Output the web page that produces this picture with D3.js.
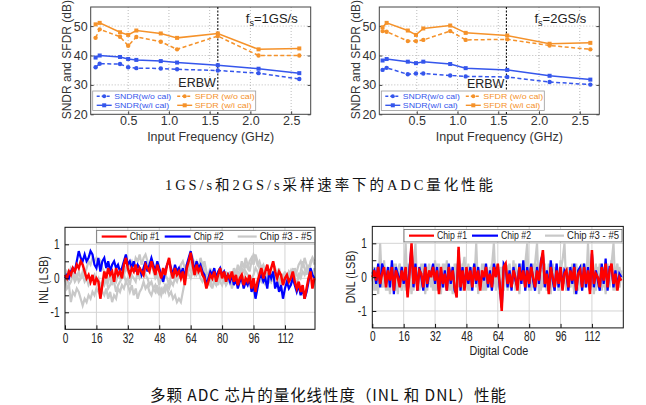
<!DOCTYPE html>
<html><head><meta charset="utf-8">
<script src="https://cdn.jsdelivr.net/npm/d3@7"></script>
<style>body{margin:0;background:#fff}svg{display:block}</style>
</head><body>
<svg id="c" width="646" height="405"></svg>
<script>
// ---------- data: ADC SNDR / SFDR vs input frequency ----------
const freq1 = [0.1,0.15,0.4,0.5,0.6,0.9,1.1,1.6,2.1,2.6];
const freq2 = [0.08,0.13,0.39,0.49,0.58,0.91,1.1,1.61,2.13,2.63];
const sndrWo1 = [36.0,37.2,37.1,36.0,35.7,35.6,35.3,34.9,34.0,32.0];
const sndrWi1 = [39.3,40.0,39.5,38.8,38.5,38.1,37.6,36.7,35.5,34.0];
const sfdrWo1 = [46.0,48.9,46.4,43.3,46.3,44.7,42.1,46.6,40.0,40.0];
const sfdrWi1 = [50.6,51.1,47.9,47.0,48.5,47.5,46.0,47.5,42.1,42.4];
const sndrWo2 = [35.1,35.8,33.6,33.9,33.9,33.2,32.9,32.7,31.0,30.1];
const sndrWi2 = [38.3,38.8,37.9,37.4,37.9,37.1,35.7,35.1,33.1,31.8];
const sfdrWo2 = [48.3,48.1,44.9,44.9,45.3,48.3,45.3,45.5,43.4,42.1];
const sfdrWi2 = [49.6,51.1,48.5,47.0,49.2,50.2,47.7,46.8,44.0,44.3];
const erbw = 1.6;
const freqTicks = [0.5,1.0,1.5,2.0,2.5];
const dbTicks = [20,30,40,50];
const seriesLabels = ["SNDR(w/o cal)","SFDR (w/o cal)","SNDR(w/i cal)","SFDR (w/i cal)"];

// ---------- data: INL / DNL vs digital code (codes 0..127) ----------
const codeTicks = [0,16,32,48,64,80,96,112];
const lsbTicks = [-1,-0.5,0,0.5,1];
const chipLabels = ["Chip #1","Chip #2","Chip #3 - #5"];
const inlChip1 = [0.1,0.0,0.2,0.1,0.3,0.2,0.4,0.3,0.5,0.4,
 0.2,0.0,0.1,-0.1,0.1,-0.2,0.0,-0.1,-0.6,-0.2,
 0.2,0.0,0.3,0.1,0.2,-0.1,0.3,0.1,0.2,0.0,
 0.4,0.6,0.3,0.1,0.3,0.2,0.4,0.1,0.3,0.2,
 0.1,0.4,0.3,0.2,0.5,0.3,0.1,0.4,0.2,0.0,
 0.3,0.1,0.4,0.6,0.2,0.0,0.3,0.1,0.2,0.0,
 0.2,-0.2,0.3,0.5,0.75,0.4,0.1,0.4,0.2,0.3,
 0.1,0.0,-0.3,-0.1,0.1,0.0,0.2,-0.1,0.1,0.3,
 0.0,0.2,-0.1,0.1,0.0,0.2,-0.1,0.1,-0.2,0.0,
 0.1,-0.2,0.0,-0.1,0.1,-0.3,0.0,-0.4,-0.1,0.1,
 0.3,0.0,0.2,0.4,0.1,0.3,0.5,0.2,0.0,0.2,
 0.1,-0.2,0.0,0.1,-0.1,0.0,0.2,-0.1,-0.3,-0.1,
 -0.4,-0.2,-0.6,-0.3,0.0,0.2,-0.3,0.0];
const inlChip2 = [0.0,0.1,0.0,0.2,0.3,0.2,0.5,0.8,0.6,0.5,
 0.7,0.5,0.6,0.8,0.7,0.4,0.3,0.6,0.2,0.5,
 0.6,0.3,0.5,0.2,0.4,0.5,0.3,0.4,0.2,0.3,
 0.5,0.7,0.4,0.5,0.3,0.5,0.2,0.4,0.3,0.1,
 0.3,0.5,0.2,0.4,0.6,0.4,0.2,0.5,0.3,0.1,
 -0.1,0.2,0.4,0.5,0.3,0.1,0.4,0.2,0.3,0.1,
 0.3,0.0,0.4,0.6,0.8,0.5,0.2,0.5,0.3,0.4,
 0.2,0.1,-0.2,0.0,0.2,0.1,0.3,0.0,0.2,0.3,
 0.1,0.2,0.0,0.1,-0.1,0.1,-0.2,0.0,-0.3,-0.1,
 0.0,-0.3,-0.1,-0.2,0.0,-0.4,-0.2,-0.6,-0.3,0.0,
 0.1,-0.1,0.0,-0.3,0.2,0.0,0.2,-0.3,-0.1,-0.4,
 -0.2,-0.6,-0.3,-0.1,-0.3,-0.2,0.0,-0.2,-0.4,-0.2,
 -0.5,-0.3,-0.6,-0.4,-0.1,0.3,0.1,0.0];
const inlChip3 = [0.0,-0.3,-0.2,-0.7,-0.4,-0.5,-0.3,-0.4,-0.6,-0.8,
 -0.6,-0.7,-0.5,-0.6,-0.4,-0.5,-0.3,-0.4,-0.2,-0.4,
 -0.5,-0.3,-0.6,-0.4,-0.7,-0.5,-0.6,-0.3,-0.4,-0.2,
 -0.3,-0.1,-0.2,-0.4,-0.2,-0.5,-0.3,-0.6,-0.4,-0.3,
 -0.1,-0.3,-0.2,-0.4,-0.5,-0.3,-0.4,-0.2,-0.5,-0.3,
 -0.4,-0.2,-0.3,-0.5,-0.4,-0.6,-0.5,-0.7,-0.6,-0.7,
 -0.4,-0.1,0.1,0.3,0.5,0.6,0.4,0.5,0.3,0.6,
 0.4,0.2,0.0,-0.1,-0.2,0.0,-0.1,-0.2,0.0,-0.1,
 -0.2,0.0,0.1,-0.1,0.2,0.0,0.3,0.1,0.4,0.2,
 0.5,0.3,0.6,0.4,0.2,0.5,0.7,0.6,0.4,0.5,
 0.3,0.4,0.2,0.0,0.1,-0.1,0.0,0.2,0.1,0.3,
 0.0,0.1,-0.1,0.0,0.2,0.1,0.3,0.0,0.2,0.4,
 0.5,0.3,0.6,0.4,0.2,0.5,0.6,0.4];
const inlChip4 = [0.0,0.2,0.1,0.3,0.2,0.0,0.1,-0.1,0.0,0.2,
 0.1,0.3,0.5,0.4,0.6,0.5,0.6,0.4,0.5,0.3,
 0.2,0.0,-0.1,0.1,-0.2,0.0,-0.1,0.1,0.0,0.2,
 0.1,0.3,0.2,0.4,0.5,0.3,0.6,0.5,0.7,0.4,
 0.6,0.7,0.5,0.3,0.4,0.2,0.0,0.1,-0.2,0.0,
 -0.1,0.1,0.0,-0.2,0.1,0.2,0.0,0.3,0.1,0.4,
 0.5,0.3,0.4,0.1,0.0,0.2,0.1,0.3,0.2,0.4,
 0.3,0.5,0.2,0.1,0.3,0.0,0.1,-0.2,0.0,-0.1,
 0.1,0.0,-0.2,-0.1,0.0,-0.3,-0.1,0.0,0.2,0.1,
 0.3,0.2,0.4,0.3,0.5,0.6,0.4,0.7,0.5,0.3,
 0.1,0.2,0.0,0.1,-0.1,0.0,0.2,0.3,0.1,0.0,
 -0.2,0.0,0.1,-0.1,0.0,0.2,0.0,0.3,0.1,0.0,
 0.2,0.5,0.3,0.1,0.4,0.2,0.1,0.3];
const inlChip5 = [-0.1,0.0,-0.2,-0.1,0.1,-0.1,0.0,0.2,0.0,0.1,
 -0.1,0.0,-0.2,-0.1,0.0,0.1,-0.1,0.0,-0.3,-0.1,
 -0.2,0.0,-0.3,-0.2,0.0,-0.1,-0.4,-0.2,-0.1,0.0,
 0.1,-0.1,0.0,-0.2,0.1,0.0,-0.1,0.2,0.0,0.1,
 0.3,0.1,0.0,-0.2,-0.1,-0.3,-0.2,-0.4,-0.3,-0.5,
 -0.3,-0.4,-0.2,-0.3,-0.1,-0.2,0.0,-0.1,0.1,0.0,
 0.2,0.0,0.1,0.3,0.2,0.4,0.3,0.1,0.2,0.0,
 -0.1,0.0,0.1,-0.2,0.0,-0.3,-0.1,0.0,-0.2,0.1,
 0.0,-0.1,0.2,0.0,0.1,-0.1,0.0,0.2,0.0,0.1,
 -0.1,0.0,0.2,0.1,-0.1,0.0,0.1,0.3,0.2,0.0,
 -0.1,0.0,-0.2,0.1,0.0,-0.1,0.2,0.0,0.1,-0.2,
 0.0,-0.1,0.2,0.0,-0.2,-0.1,0.1,0.0,-0.2,0.1,
 0.0,0.2,0.1,0.3,0.2,0.4,0.6,0.5];
const dnlChip1 = [0.0,0.2,-0.1,0.3,-0.2,0.1,0.3,-0.3,0.2,-0.1,
 0.3,-0.4,0.2,0.0,-0.3,0.2,-0.1,0.3,-0.6,0.1,
 1.0,-0.2,0.3,-0.4,0.2,0.1,-0.3,0.3,-0.2,0.2,
 0.0,0.3,-0.1,0.2,-0.5,0.3,-0.2,0.1,-0.4,0.3,
 -0.1,0.2,-0.3,-0.6,0.9,-0.3,0.2,-0.4,0.3,-0.1,
 0.2,-0.3,0.3,-0.1,0.2,-0.4,0.2,0.0,0.3,-0.2,
 0.1,-0.3,0.3,0.0,0.4,-0.2,-1.0,0.3,0.4,-0.2,
 0.1,-0.3,0.2,0.0,-0.4,0.3,-0.1,0.2,-0.3,0.2,
 -0.2,0.3,0.0,-0.3,0.2,-0.1,0.4,0.8,-0.2,0.1,
 -0.5,0.3,0.0,-0.3,0.2,-0.2,0.3,-0.4,0.1,0.2,
 -0.3,0.2,-0.1,0.3,-0.4,0.1,0.2,-0.3,0.3,-0.2,
 0.2,-0.5,0.8,-0.2,0.1,0.0,-0.3,0.3,-0.1,0.4,
 -0.3,0.2,0.4,-0.2,0.1,-0.4,0.0,-0.1];
const dnlChip2 = [0.1,0.2,-0.2,0.4,-0.3,0.4,0.2,-0.2,0.3,-0.3,
 0.5,-0.5,0.3,0.1,-0.2,0.3,-0.2,0.2,-0.5,0.3,
 0.9,-0.3,0.4,-0.4,0.3,0.0,-0.4,0.4,-0.3,0.1,
 0.1,0.4,-0.2,0.3,-0.4,0.2,-0.3,0.2,-0.4,0.4,
 -0.2,0.3,-0.4,-0.5,0.8,-0.4,0.3,-0.3,0.2,-0.2,
 0.3,-0.4,0.4,-0.2,0.3,-0.3,0.1,-0.1,0.4,-0.3,
 0.2,-0.4,0.4,0.1,0.3,-0.3,-0.9,0.4,0.3,-0.3,
 0.2,-0.4,0.3,-0.1,-0.3,0.4,-0.2,0.5,-0.4,0.3,
 -0.3,0.4,-0.1,-0.4,0.3,-0.2,0.5,0.7,-0.3,0.2,
 -0.4,0.5,-0.1,-0.4,0.4,-0.3,0.3,-0.3,0.2,0.1,
 -0.4,0.3,-0.2,0.4,-0.5,0.2,0.3,-0.4,0.4,-0.3,
 0.3,-0.4,0.7,-0.3,0.2,-0.1,-0.4,0.4,-0.2,0.55,
 -0.4,0.3,0.3,-0.3,0.2,-0.3,0.1,0.0];
const dnlChip3 = [0.0,-0.4,0.3,-0.5,1.0,-0.3,0.2,-0.4,0.3,-0.5,
 0.2,-0.3,0.4,-0.5,0.1,0.3,-0.3,1.0,-0.4,0.2,
 -0.5,0.3,1.0,-0.4,0.2,-0.3,0.4,-0.5,0.3,-0.2,
 0.1,-0.4,0.5,-0.3,0.2,-0.5,0.4,-0.2,0.3,-0.4,
 0.2,-0.5,0.4,-0.3,0.3,-0.4,0.2,0.6,-0.3,0.1,
 -0.4,0.3,-0.2,1.0,-0.5,0.2,-0.3,0.4,-0.4,0.1,
 -0.3,0.3,1.0,-0.4,0.2,-0.5,0.3,-0.2,0.4,-0.4,
 0.2,-0.3,0.5,-0.4,0.1,-0.5,0.3,-0.2,0.4,1.0,
 -0.4,0.2,-0.3,0.4,1.0,-0.5,0.2,-0.3,0.3,-0.4,
 0.2,-0.5,0.4,-0.2,0.3,-0.4,0.2,0.5,1.0,-0.4,
 0.3,-0.3,0.2,-0.5,0.4,-0.2,0.3,-0.4,0.2,-0.3,
 1.0,-0.4,0.3,-0.5,0.2,-0.3,0.4,-0.2,0.3,-0.5,
 0.2,-0.3,0.4,1.0,-0.4,0.2,-0.3,0.1];
const dnlChip4 = [0.1,0.3,-0.3,0.2,-0.2,0.4,-0.3,0.1,-0.4,0.3,
 -0.2,0.4,-0.3,0.2,-0.1,-0.4,0.3,-0.2,0.4,-0.3,
 0.2,-0.4,0.3,0.0,-0.3,0.4,-0.2,0.2,-0.4,0.3,
 -0.3,0.2,-0.4,0.4,-0.1,0.3,-0.3,0.4,-0.2,0.2,
 -0.4,0.3,-0.1,0.4,-0.3,0.2,-0.4,0.3,-0.2,0.4,
 -0.3,0.2,0.4,-0.3,0.3,-0.2,0.4,-0.4,0.2,-0.1,
 0.3,-0.4,0.2,-0.3,0.4,-0.2,0.3,-0.4,0.2,-0.3,
 0.4,-0.2,0.3,-0.3,0.2,-0.4,0.4,-0.1,0.3,-0.3,
 0.2,-0.4,0.3,-0.2,0.4,-0.3,0.2,-0.1,0.4,-0.4,
 0.3,-0.2,0.2,-0.4,0.4,-0.3,0.2,-0.2,0.3,-0.4,
 0.2,-0.3,0.4,-0.2,0.3,-0.4,0.2,-0.3,0.4,-0.1,
 0.3,-0.4,0.2,-0.3,0.4,-0.2,0.3,-0.4,0.2,-0.3,
 0.4,-0.2,0.3,-0.4,0.2,0.4,-0.3,0.2];
const dnlChip5 = [-0.1,0.2,-0.4,0.3,0.1,-0.3,0.5,-0.2,0.1,-0.3,
 0.3,-0.1,-0.4,0.2,0.4,-0.2,0.1,-0.4,0.3,0.0,
 -0.3,0.5,-0.2,0.2,-0.4,0.1,0.3,-0.3,0.1,0.4,
 -0.2,0.0,0.3,-0.4,0.4,-0.1,0.2,-0.3,0.5,-0.2,
 0.1,0.3,-0.4,0.2,0.0,-0.3,0.4,-0.2,0.1,-0.4,
 0.3,-0.1,0.2,0.5,-0.3,0.1,-0.4,0.2,0.3,-0.3,
 0.1,0.4,-0.2,0.2,-0.3,0.3,0.0,-0.4,0.2,0.3,
 -0.3,0.1,-0.2,0.4,-0.3,0.2,-0.1,0.3,-0.4,0.5,
 0.1,-0.3,0.4,0.0,-0.2,0.3,-0.4,0.2,0.1,-0.3,
 0.4,-0.1,-0.3,0.3,0.1,-0.4,0.5,0.0,-0.2,0.3,
 -0.3,0.2,0.1,-0.4,0.3,0.0,-0.2,0.4,-0.3,0.2,
 0.1,-0.3,0.4,0.0,-0.4,0.3,-0.1,0.2,-0.3,0.4,
 -0.2,0.1,0.5,-0.3,0.2,-0.4,0.3,0.0];

// ---------- drawing ----------
const svg = d3.select("#c");
const FONT = "'Liberation Sans', Arial, sans-serif";
const BLUE = "#3556ec", ORANGE = "#f5922a";
const RED = "#ff0000", CBLUE = "#0000ff", GRAY = "#c8c8c8";

function squash(sel, f) {
  sel.each(function () {
    const L = this.getComputedTextLength();
    if (L > 0) d3.select(this).attr("textLength", L * f).attr("lengthAdjust", "spacingAndGlyphs");
  });
}

function topChart(o) {
  const g = svg.append("g");
  const x = d3.scaleLinear().domain([0.04, 2.74]).range([o.x0, o.x1]);
  const y = d3.scaleLinear().domain([20, 56.5]).range([114.3, 7]);
  const yb = y.range()[0], yt = y.range()[1];
  g.selectAll(".vg").data(freqTicks).join("line")
    .attr("x1", d => x(d)).attr("x2", d => x(d)).attr("y1", yt).attr("y2", yb)
    .attr("stroke", "#aaa").attr("stroke-width", 0.8).attr("stroke-dasharray", "1,2");
  g.selectAll(".hg").data(dbTicks.slice(1)).join("line")
    .attr("x1", o.x0).attr("x2", o.x1).attr("y1", d => y(d)).attr("y2", d => y(d))
    .attr("stroke", "#aaa").attr("stroke-width", 0.8).attr("stroke-dasharray", "1,2");
  const ax = g.append("g").attr("transform", `translate(0,${yb})`)
    .call(d3.axisBottom(x).tickValues(freqTicks).tickFormat(d3.format(".1f")).tickSizeInner(-3).tickSizeOuter(0).tickPadding(2));
  const ay = g.append("g").attr("transform", `translate(${o.x0},0)`)
    .call(d3.axisLeft(y).tickValues(dbTicks).tickSizeInner(-3).tickSizeOuter(0).tickPadding(3));
  const ar = g.append("g").attr("transform", `translate(${o.x1},0)`)
    .call(d3.axisRight(y).tickValues(dbTicks).tickFormat("").tickSizeInner(-3).tickSizeOuter(0));
  [ax, ay, ar].forEach(a => {
    a.select(".domain").remove();
    a.selectAll("line").attr("stroke", "#444");
    a.selectAll("text").attr("font-family", FONT).attr("font-size", 12.5).attr("fill", "#333");
  });
  g.append("rect").attr("x", o.x0).attr("y", yt).attr("width", o.x1 - o.x0).attr("height", yb - yt)
    .attr("fill", "none").attr("stroke", "#444").attr("stroke-width", 1);
  // ERBW
  g.append("line").attr("x1", x(erbw)).attr("x2", x(erbw)).attr("y1", yt).attr("y2", yb)
    .attr("stroke", "#111").attr("stroke-width", 1.1).attr("stroke-dasharray", "2,1.5");
  g.append("text").attr("x", x(erbw) - 2).attr("y", o.erbwY).attr("text-anchor", "end")
    .attr("font-family", FONT).attr("font-size", 12.5).attr("fill", "#222").text("ERBW");
  const t = g.append("text").attr("x", o.x1 - 13).attr("y", 23).attr("text-anchor", "end")
    .attr("font-family", FONT).attr("font-size", 13).attr("fill", "#222");
  t.append("tspan").text("f");
  t.append("tspan").attr("font-size", 9).attr("dy", 3).text("s");
  t.append("tspan").attr("dy", -3).text(o.fs);
  const series = [
    {v: o.sfdrWo, c: ORANGE, dash: true, m: "c"},
    {v: o.sfdrWi, c: ORANGE, dash: false, m: "s"},
    {v: o.sndrWo, c: BLUE, dash: true, m: "c"},
    {v: o.sndrWi, c: BLUE, dash: false, m: "s"}
  ];
  series.forEach(s => {
    const pts = s.v.map((v, i) => [x(o.freq[i]), y(v)]);
    g.append("path").attr("d", d3.line()(pts)).attr("fill", "none").attr("stroke", s.c)
      .attr("stroke-width", 1.5).attr("stroke-dasharray", s.dash ? "4,2.5" : null);
    if (s.m === "c") {
      g.selectAll(null).data(pts).join("circle").attr("cx", d => d[0]).attr("cy", d => d[1]).attr("r", 2.2).attr("fill", s.c);
    } else {
      g.selectAll(null).data(pts).join("rect").attr("x", d => d[0] - 2).attr("y", d => d[1] - 2).attr("width", 4).attr("height", 4).attr("fill", s.c);
    }
  });
  // legend
  const L = o.x0 + 2, T = 91;
  const lg = g.append("g");
  lg.append("rect").attr("x", L).attr("y", T).attr("width", 163).attr("height", 19.5)
    .attr("fill", "#fff").attr("stroke", "#999").attr("stroke-width", 0.8);
  const items = [
    {lab: seriesLabels[0], c: BLUE, dash: true, m: "c", col: 0, row: 0, w: 57},
    {lab: seriesLabels[1], c: ORANGE, dash: true, m: "c", col: 1, row: 0, w: 60},
    {lab: seriesLabels[2], c: BLUE, dash: false, m: "s", col: 0, row: 1, w: 55},
    {lab: seriesLabels[3], c: ORANGE, dash: false, m: "s", col: 1, row: 1, w: 57}
  ];
  items.forEach(it => {
    const lx0 = L + (it.col ? 84.5 : 4), lx1 = lx0 + 15, ly = T + 5.3 + it.row * 9;
    lg.append("line").attr("x1", lx0).attr("x2", lx1).attr("y1", ly).attr("y2", ly)
      .attr("stroke", it.c).attr("stroke-width", 1.4).attr("stroke-dasharray", it.dash ? "3,2" : null);
    const mx = (lx0 + lx1) / 2;
    if (it.m === "c") lg.append("circle").attr("cx", mx).attr("cy", ly).attr("r", 2).attr("fill", it.c);
    else lg.append("rect").attr("x", mx - 2).attr("y", ly - 2).attr("width", 4).attr("height", 4).attr("fill", it.c);
    lg.append("text").attr("x", lx1 + 2.5).attr("y", ly).attr("dy", "0.35em")
      .attr("font-family", FONT).attr("font-size", 7.8).attr("fill", it.c)
      .attr("textLength", it.w).attr("lengthAdjust", "spacingAndGlyphs").text(it.lab);
  });
  g.append("text").attr("transform", `translate(${o.x0 - 24},${(yt + yb) / 2 - 1}) rotate(-90)`)
    .attr("text-anchor", "middle").attr("dy", "0.35em").attr("font-family", FONT).attr("font-size", 12)
    .attr("fill", "#333").text("SNDR and SFDR (dB)");
  g.append("text").attr("x", (o.x0 + o.x1) / 2 + 10).attr("y", 141).attr("text-anchor", "middle")
    .attr("font-family", FONT).attr("font-size", 12.5).attr("fill", "#333").text("Input Frequency (GHz)");
}

topChart({x0: 90.7, x1: 310.7, freq: freq1, sndrWo: sndrWo1, sndrWi: sndrWi1, sfdrWo: sfdrWo1, sfdrWi: sfdrWi1, fs: "=1GS/s", erbwY: 87});
topChart({x0: 379.3, x1: 599.3, freq: freq2, sndrWo: sndrWo2, sndrWi: sndrWi2, sfdrWo: sfdrWo2, sfdrWi: sfdrWi2, fs: "=2GS/s", erbwY: 88});

function lowChart(o) {
  const g = svg.append("g");
  const x = d3.scaleLinear().domain([0, o.xmax]).range([o.x0, o.x1]);
  const y = d3.scaleLinear().domain([-1.5, 1.5]).range([o.yb, o.yt]);
  g.selectAll(".vg").data(codeTicks.slice(1)).join("line")
    .attr("x1", d => x(d)).attr("x2", d => x(d)).attr("y1", o.yt).attr("y2", o.yb)
    .attr("stroke", "#d4d4d4").attr("stroke-width", 1);
  g.selectAll(".hg").data([-1, 0, 1]).join("line")
    .attr("x1", o.x0).attr("x2", o.x1).attr("y1", d => y(d)).attr("y2", d => y(d))
    .attr("stroke", "#d4d4d4").attr("stroke-width", 1);
  const line = d3.line().x((d, i) => x(i)).y(d => y(d));
  o.gray.forEach(s => g.append("path").attr("d", line(s)).attr("fill", "none").attr("stroke", GRAY).attr("stroke-width", 2.2));
  g.append("path").attr("d", line(o.c2)).attr("fill", "none").attr("stroke", CBLUE).attr("stroke-width", 2.2);
  g.append("path").attr("d", line(o.c1)).attr("fill", "none").attr("stroke", RED).attr("stroke-width", 2.5);
  g.append("rect").attr("x", o.x0).attr("y", o.yt).attr("width", o.x1 - o.x0).attr("height", o.yb - o.yt)
    .attr("fill", "none").attr("stroke", "#111").attr("stroke-width", 1);
  const ax = g.append("g").attr("transform", `translate(0,${o.yb})`)
    .call(d3.axisBottom(x).tickValues(codeTicks).tickSizeInner(-4).tickSizeOuter(0).tickPadding(3.5));
  const ay = g.append("g").attr("transform", `translate(${o.x0},0)`)
    .call(d3.axisLeft(y).tickValues(lsbTicks).tickFormat(d => Number.isInteger(d) ? String(d) : "")
      .tickSizeInner(-4).tickSizeOuter(0).tickPadding(5.5));
  [ax, ay].forEach(a => {
    a.select(".domain").remove();
    a.selectAll("line").attr("stroke", "#111");
    a.selectAll("text").attr("font-family", FONT).attr("font-size", 14).attr("fill", "#222");
    squash(a.selectAll("text"), 0.72);
  });
  const L = o.x0 + 31.7, T = o.yt + 3;
  g.append("rect").attr("x", L).attr("y", T).attr("width", 218).attr("height", 12.5)
    .attr("fill", "#fff").attr("stroke", "#666").attr("stroke-width", 0.8);
  const items = [
    {lab: chipLabels[0], c: RED, a: 5, b: 30, t: 33, w: 30},
    {lab: chipLabels[1], c: CBLUE, a: 68, b: 94, t: 97, w: 30},
    {lab: chipLabels[2], c: GRAY, a: 141, b: 160, t: 163, w: 52}
  ];
  items.forEach(it => {
    const ly = T + 6.25;
    g.append("line").attr("x1", L + it.a).attr("x2", L + it.b).attr("y1", ly).attr("y2", ly)
      .attr("stroke", it.c).attr("stroke-width", 2.2);
    g.append("text").attr("x", L + it.t).attr("y", ly).attr("dy", "0.36em")
      .attr("font-family", FONT).attr("font-size", 10.5).attr("fill", "#222")
      .attr("textLength", it.w).attr("lengthAdjust", "spacingAndGlyphs").text(it.lab);
  });
  const yl = g.append("text").attr("transform", `translate(${o.ylx},${o.yly}) rotate(-90)`)
    .attr("text-anchor", "middle").attr("dy", "0.35em").attr("font-family", FONT).attr("font-size", 13)
    .attr("fill", "#222").text(o.ylab);
  squash(yl, 0.85);
  if (o.xlab) {
    const xl = g.append("text").attr("x", (o.x0 + o.x1) / 2 + 1).attr("y", 355).attr("text-anchor", "middle")
      .attr("font-family", FONT).attr("font-size", 13).attr("fill", "#222").text(o.xlab);
    squash(xl, 0.83);
  }
}

lowChart({x0: 65, x1: 315, yt: 227.3, yb: 329.3, xmax: 127.3, c1: inlChip1, c2: inlChip2,
  gray: [inlChip3, inlChip4, inlChip5], ylab: "INL (LSB)", ylx: 43, yly: 280});
lowChart({x0: 372.3, x1: 623.3, yt: 226.4, yb: 327.9, xmax: 128, c1: dnlChip1, c2: dnlChip2,
  gray: [dnlChip3, dnlChip4, dnlChip5], ylab: "DNL (LSB)", ylx: 350, yly: 277, xlab: "Digital Code"});

// captions
svg.append("text").attr("x", 165).attr("y", 190).attr("font-family", "'Liberation Serif','DejaVu Serif','Noto Sans CJK SC',serif")
  .attr("font-size", 14.5).attr("fill", "#111").attr("textLength", 328).attr("lengthAdjust", "spacing")
  .text("1GS/s和2GS/s采样速率下的ADC量化性能");
svg.append("text").attr("x", 150).attr("y", 400.5).attr("font-family", "'Noto Sans CJK SC',sans-serif")
  .attr("font-size", 15.5).attr("fill", "#111").attr("textLength", 356).attr("lengthAdjust", "spacing")
  .text("多颗 ADC 芯片的量化线性度（INL 和 DNL）性能");
</script>
</body></html>
